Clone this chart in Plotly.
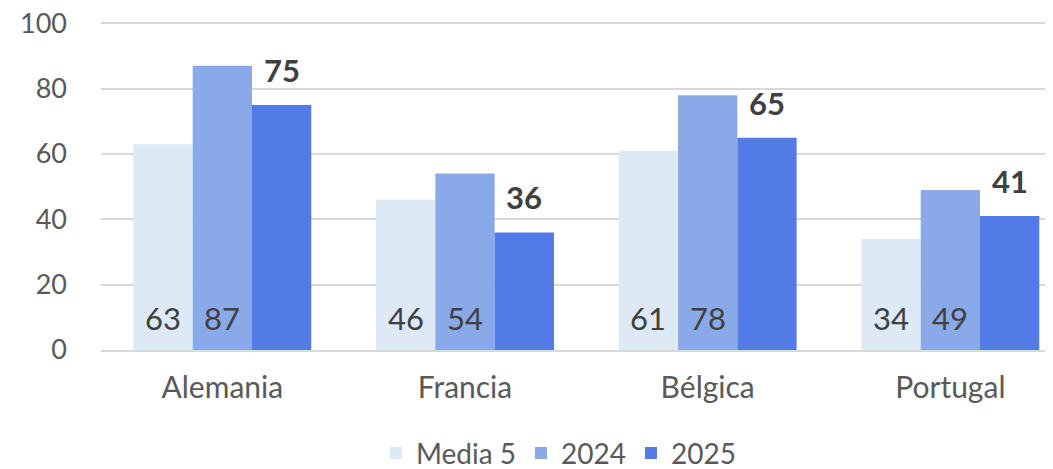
import plotly.graph_objects as go

paises = ["Alemania", "Francia", "Bélgica", "Portugal"]
media5 = [63, 46, 61, 34]
v2024 = [87, 54, 78, 49]
v2025 = [75, 36, 65, 41]

fuente = "Lato"
gris = "#595959"
oscuro = "#404040"

# la página deja 8px de margen en el body, así que la figura es 8px más pequeña
ancho, alto = 1045, 461
ancho_barra = 59.3  # px, para colocar las etiquetas sobre cada barra del grupo

fig = go.Figure()
fig.add_trace(go.Bar(x=paises, y=media5, name="Media 5",
                     marker=dict(color="#DDE9F5", line=dict(width=0))))
fig.add_trace(go.Bar(x=paises, y=v2024, name="2024",
                     marker=dict(color="#8AA9E8", line=dict(width=0))))
fig.add_trace(go.Bar(x=paises, y=v2025, name="2025",
                     marker=dict(color="#527BE8", line=dict(width=0))))

for p, a, b, c in zip(paises, media5, v2024, v2025):
    fig.add_annotation(x=p, y=0, text=str(a), showarrow=False, yanchor="middle",
                       xshift=-ancho_barra, yshift=32,
                       font=dict(size=31, color=oscuro, family=fuente))
    fig.add_annotation(x=p, y=0, text=str(b), showarrow=False, yanchor="middle",
                       xshift=0, yshift=32,
                       font=dict(size=31, color=oscuro, family=fuente))
    fig.add_annotation(x=p, y=c, text="<b>%d</b>" % c, showarrow=False, yanchor="bottom",
                       xshift=ancho_barra, yshift=14,
                       font=dict(size=31, color=oscuro, family=fuente))

fig.update_layout(
    width=ancho, height=alto,
    barmode="group", bargap=0.267, bargroupgap=0,
    plot_bgcolor="white", paper_bgcolor="white",
    margin=dict(l=93, r=0, t=14, b=119, autoexpand=False),
    font=dict(family=fuente, size=27, color=gris),
    showlegend=True,
    legend=dict(orientation="h", x=0.481, xanchor="center", y=-0.315, yanchor="middle",
                font=dict(size=28, color=gris), itemwidth=30),
    yaxis=dict(range=[0, 100.4], tickvals=[0, 20, 40, 60, 80, 100], showgrid=True,
               gridcolor="#D9D9D9", gridwidth=2, ticklabeloverflow="allow",
               zeroline=False, showline=False, ticks="", ticklabelstandoff=33,
               tickfont=dict(size=27, color=gris)),
    xaxis=dict(range=[-0.5, 3.423], showline=True, linecolor="#D9D9D9", linewidth=2, ticks="",
               tickfont=dict(size=30, color=gris), ticklabelstandoff=10),
)

fig.write_html("out.html")
